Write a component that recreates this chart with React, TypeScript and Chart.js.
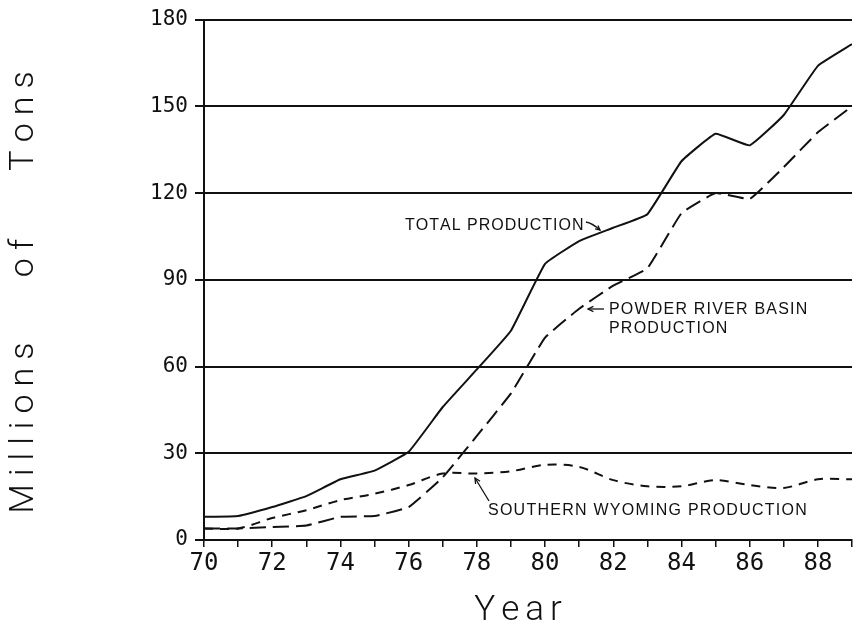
import React, { useEffect, useRef } from "react";
import { Chart, registerables } from "chart.js";

Chart.register(...registerables);

const years = [70, 71, 72, 73, 74, 75, 76, 77, 78, 79, 80, 81, 82, 83, 84, 85, 86, 87, 88, 89];
const totalProduction = [8, 8.3, 11.4, 15.2, 21, 24, 30.5, 46, 59, 72.4, 95.5, 103.4, 108, 112.7, 131, 140.5, 136.5, 147, 164, 171.5];
const powderRiverBasin = [4, 4, 4.5, 5, 8, 8.3, 11.4, 21.7, 36, 50.7, 70, 80, 88, 94, 113, 120, 118, 129, 141, 150];
const southernWyoming = [4, 4, 7.6, 10.3, 13.8, 16, 19, 23, 23, 23.8, 26, 25.3, 20.7, 18.6, 18.6, 20.7, 19, 18, 21, 21];
const yTitleWords = ["Millions", "of", "Tons"];
const xTitle = "Year";
const labelTotal = "TOTAL PRODUCTION";
const labelPRB = ["POWDER RIVER BASIN", "PRODUCTION"];
const labelSouthern = "SOUTHERN WYOMING PRODUCTION";

function drawSpaced(ctx: CanvasRenderingContext2D, text: string, x: number, y: number, spacing: number, align: "left" | "center") {
  let total = 0;
  const widths: number[] = [];
  for (const ch of text) {
    const w = ctx.measureText(ch).width;
    widths.push(w);
    total += w;
  }
  total += spacing * (text.length - 1);
  let cx = align === "center" ? x - total / 2 : x;
  ctx.textAlign = "left";
  let i = 0;
  for (const ch of text) {
    ctx.fillText(ch, cx, y);
    cx += widths[i] + spacing;
    i++;
  }
}

function arrowHead(ctx: CanvasRenderingContext2D, fx: number, fy: number, tx: number, ty: number, size: number) {
  const a = Math.atan2(ty - fy, tx - fx);
  ctx.beginPath();
  ctx.moveTo(tx - size * Math.cos(a - 0.45), ty - size * Math.sin(a - 0.45));
  ctx.lineTo(tx, ty);
  ctx.lineTo(tx - size * Math.cos(a + 0.45), ty - size * Math.sin(a + 0.45));
  ctx.stroke();
}

const decorPlugin = {
  id: "decor",
  afterDraw(chart: any) {
    const ctx: CanvasRenderingContext2D = chart.ctx;
    ctx.save();
    ctx.fillStyle = "#111";
    ctx.strokeStyle = "#111";
    // Y title
    ctx.font = '300 34px Roboto';
    ctx.textBaseline = "middle";
    const centers = [428, 258, 121];
    yTitleWords.forEach((w, i) => {
      ctx.save();
      ctx.translate(24, centers[i]);
      ctx.rotate(-Math.PI / 2);
      drawSpaced(ctx, w, 0, 0, 8, "center");
      ctx.restore();
    });
    // X title
    ctx.font = '300 35px Roboto';
    ctx.textBaseline = "alphabetic";
    drawSpaced(ctx, xTitle, 518, 620, 6, "center");

    // Annotations
    ctx.font = '16px "Liberation Sans", Arial, sans-serif';
    ctx.textBaseline = "alphabetic";
    drawSpaced(ctx, labelTotal, 405, 230, 1, "left");
    drawSpaced(ctx, labelPRB[0], 609, 314, 1.2, "left");
    drawSpaced(ctx, labelPRB[1], 609, 333, 1.2, "left");
    drawSpaced(ctx, labelSouthern, 488, 515, 1.25, "left");

    ctx.lineWidth = 1.3;
    // total arrow
    ctx.beginPath();
    ctx.moveTo(586, 222);
    ctx.quadraticCurveTo(592, 223, 600, 230);
    ctx.stroke();
    arrowHead(ctx, 594, 225, 600, 230, 5);
    // PRB arrow
    ctx.beginPath();
    ctx.moveTo(604, 309);
    ctx.lineTo(588, 309);
    ctx.stroke();
    arrowHead(ctx, 604, 309, 588, 309, 6);
    // southern arrow
    ctx.beginPath();
    ctx.moveTo(489, 501);
    ctx.lineTo(475, 478);
    ctx.stroke();
    arrowHead(ctx, 489, 501, 475, 478, 6);
    ctx.restore();
  },
};

export default function App() {
  const ref = useRef<HTMLCanvasElement | null>(null);
  useEffect(() => {
    document.body.style.margin = "0";
    const canvas = ref.current;
    if (!canvas) return;
    const mk = (arr: number[]) => years.map((y, i) => ({ x: y, y: arr[i] }));
    const chart = new Chart(canvas, {
      type: "line",
      data: {
        datasets: [
          { label: "Total Production", data: mk(totalProduction), borderColor: "#111", borderWidth: 2, pointRadius: 0, tension: 0.1, fill: false },
          { label: "Powder River Basin Production", data: mk(powderRiverBasin), borderColor: "#111", borderWidth: 2, borderDash: [16, 7], pointRadius: 0, tension: 0.1, fill: false },
          { label: "Southern Wyoming Production", data: mk(southernWyoming), borderColor: "#111", borderWidth: 2, borderDash: [9, 7], pointRadius: 0, tension: 0.3, fill: false },
        ],
      },
      options: {
        animation: false,
        responsive: false,
        layout: { padding: { top: 18, right: 10, left: 0, bottom: 0 } },
        plugins: { legend: { display: false }, tooltip: { enabled: false }, title: { display: false } },
        scales: {
          x: {
            type: "linear",
            min: 70,
            max: 89,
            afterFit: (s: any) => { s.height = 85; },
            ticks: {
              stepSize: 1,
              autoSkip: false,
              maxRotation: 0,
              padding: 2,
              color: "#111",
              font: { family: '"DejaVu Sans Mono", monospace', size: 24 },
              callback: (v: any) => (Number(v) % 2 === 0 ? String(v) : ""),
            },
            grid: { drawOnChartArea: false, drawTicks: true, tickLength: 7, color: "#111", lineWidth: 1.5 },
            border: { display: true, color: "#111", width: 2 },
          },
          y: {
            min: 0,
            max: 180,
            afterFit: (s: any) => { s.width = 204; },
            ticks: {
              stepSize: 30,
              padding: 7,
              color: "#111",
              font: { family: '"DejaVu Sans Mono", monospace', size: 21 },
            },
            grid: { color: "#111", lineWidth: 2, tickLength: 9, drawTicks: true },
            border: { display: true, color: "#111", width: 2 },
          },
        },
      },
      plugins: [decorPlugin],
    });
    return () => chart.destroy();
  }, []);
  return (
    <div style={{ width: 862, height: 625, background: "#fff" }}>
      <canvas ref={ref} width={862} height={625} />
    </div>
  );
}
